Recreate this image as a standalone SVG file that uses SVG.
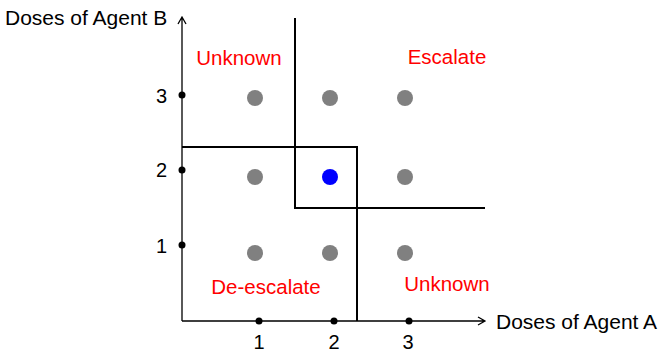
<svg xmlns="http://www.w3.org/2000/svg" width="664" height="353" viewBox="0 0 664 353">
<style>
text{font-family:"Liberation Sans",Arial,sans-serif;font-size:20px;fill:#000}
.t{font-size:21px}
.lab{fill:#ff0000;font-size:20.5px}
.ln{stroke:#000;stroke-width:2;fill:none}
.ax{stroke:#000;stroke-width:1.3;fill:none}
.tick{fill:#000}
.g{fill:#808080}
</style>
<rect width="664" height="353" fill="#fff"/>
<g id="axes">
<path class="ax" d="M182,321 V17 M178,24 L182,17 L186,24"/>
<path class="ax" d="M182,321 H485 M478,317 L485,321 L478,325"/>
<text class="t" x="5" y="25">Doses of Agent B</text>
<text class="t" x="496" y="329">Doses of Agent A</text>
</g>
<g id="ticks">
<circle class="tick" cx="182" cy="95" r="3.5"/>
<circle class="tick" cx="182" cy="170" r="3.5"/>
<circle class="tick" cx="182" cy="245" r="3.5"/>
<circle class="tick" cx="259" cy="321" r="3.5"/>
<circle class="tick" cx="334" cy="321" r="3.5"/>
<circle class="tick" cx="409" cy="321" r="3.5"/>
<text x="167" y="103" text-anchor="end">3</text>
<text x="167" y="177" text-anchor="end">2</text>
<text x="167" y="253" text-anchor="end">1</text>
<text x="259" y="349" text-anchor="middle">1</text>
<text x="334" y="349" text-anchor="middle">2</text>
<text x="408" y="349" text-anchor="middle">3</text>
</g>
<g id="boundaries">
<path class="ln" d="M182,147 H357 V321"/>
<path class="ln" d="M295,18 V208 H485"/>
</g>
<g id="doses">
<circle class="g" cx="255" cy="98" r="8"/>
<circle class="g" cx="330" cy="98" r="8"/>
<circle class="g" cx="405" cy="98" r="8"/>
<circle class="g" cx="255" cy="177" r="8"/>
<circle cx="330" cy="177" r="8" fill="#0000ff"/>
<circle class="g" cx="405" cy="177" r="8"/>
<circle class="g" cx="255" cy="253" r="8"/>
<circle class="g" cx="330" cy="253" r="8"/>
<circle class="g" cx="405" cy="253" r="8"/>
</g>
<g id="labels">
<text class="lab" x="239" y="65" text-anchor="middle">Unknown</text>
<text class="lab" x="447" y="64" text-anchor="middle">Escalate</text>
<text class="lab" x="266" y="294" text-anchor="middle">De-escalate</text>
<text class="lab" x="447" y="291" text-anchor="middle">Unknown</text>
</g>
</svg>
